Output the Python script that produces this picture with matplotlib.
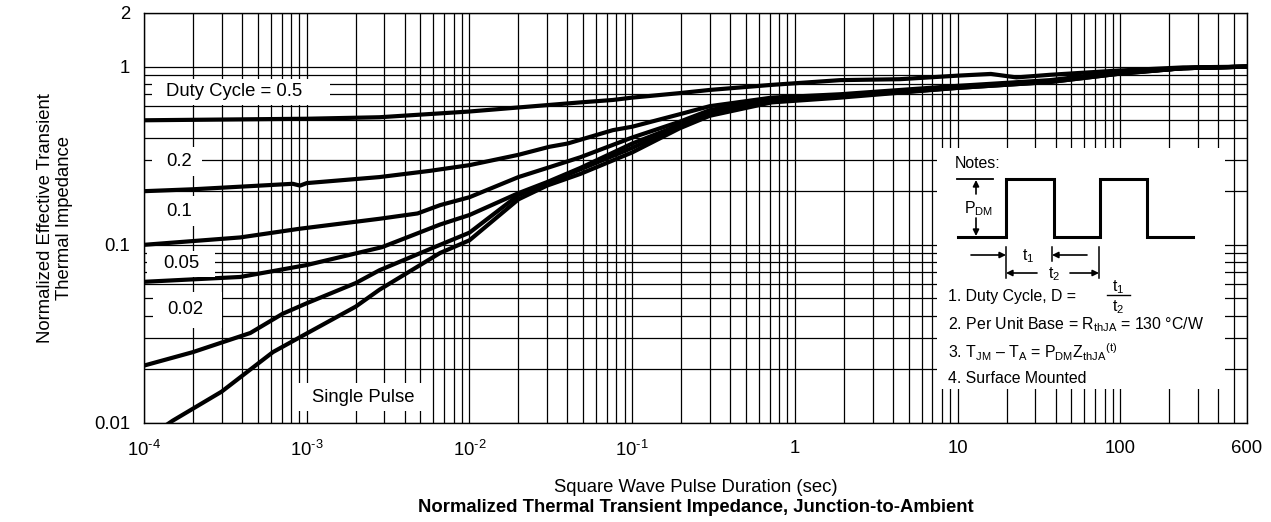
import numpy as np
import matplotlib.pyplot as plt
from matplotlib.patches import Rectangle

plt.rcParams['font.family'] = ['Liberation Sans', 'DejaVu Sans']
plt.rcParams['mathtext.fontset'] = 'custom'
plt.rcParams['mathtext.rm'] = 'Liberation Sans'
plt.rcParams['mathtext.it'] = 'Liberation Sans:italic'

# curves
d05_x = [1e-4, 1e-3, 2.8e-3, 1e-2, 2e-2, 4.8e-2, 7.6e-2, 0.1, 0.195, 0.3, 0.72, 1.9, 4.4, 10, 16, 23, 37, 96, 243, 600]
d05_y = [0.50, 0.51, 0.52, 0.56, 0.59, 0.63, 0.65, 0.67, 0.71, 0.74, 0.79, 0.84, 0.85, 0.89, 0.91, 0.87, 0.90, 0.95, 0.99, 1.0]

d02_x = [1e-4, 2e-4, 8.2e-4, 9.1e-4, 1e-3, 2.8e-3, 5.7e-3, 1e-2, 2e-2, 3.1e-2, 4e-2, 7.6e-2, 0.1, 0.195, 0.3, 0.72, 1.9, 10, 37, 96, 243, 600]
d02_y = [0.20, 0.205, 0.22, 0.215, 0.222, 0.24, 0.26, 0.28, 0.32, 0.355, 0.37, 0.44, 0.46, 0.54, 0.60, 0.67, 0.70, 0.78, 0.84, 0.93, 0.98, 1.0]

d01_x = [1e-4, 3.9e-4, 9e-4, 2.8e-3, 4.8e-3, 6.6e-3, 1e-2, 2e-2, 3e-2, 4.8e-2, 0.1, 0.195, 0.3, 0.72, 1.9, 10, 37, 96, 243, 600]
d01_y = [0.10, 0.11, 0.123, 0.14, 0.15, 0.167, 0.185, 0.24, 0.27, 0.31, 0.40, 0.49, 0.57, 0.66, 0.69, 0.77, 0.83, 0.92, 0.98, 1.0]

d005_x = [1e-4, 3.9e-4, 1e-3, 2.9e-3, 6.6e-3, 1e-2, 2e-2, 3e-2, 4.8e-2, 0.1, 0.195, 0.3, 0.72, 1.9, 10, 37, 96, 243, 600]
d005_y = [0.062, 0.066, 0.077, 0.097, 0.13, 0.147, 0.195, 0.225, 0.27, 0.37, 0.47, 0.55, 0.65, 0.68, 0.77, 0.83, 0.92, 0.98, 1.0]

d002_x = [1e-4, 2e-4, 4.5e-4, 7.1e-4, 1e-3, 2e-3, 2.8e-3, 6.6e-3, 1e-2, 2e-2, 3e-2, 4.8e-2, 0.1, 0.195, 0.3, 0.72, 1.9, 10, 37, 96, 243, 600]
d002_y = [0.021, 0.025, 0.032, 0.041, 0.047, 0.061, 0.072, 0.10, 0.117, 0.19, 0.222, 0.265, 0.35, 0.46, 0.54, 0.64, 0.68, 0.76, 0.82, 0.91, 0.98, 1.0]

single_x = [1e-4, 1.5e-4, 3e-4, 6.2e-4, 9.5e-4, 2e-3, 2.8e-3, 6.6e-3, 1e-2, 2e-2, 3e-2, 4.8e-2, 0.1, 0.195, 0.3, 0.72, 1.9, 10, 37, 96, 243, 600]
single_y = [0.0080, 0.0103, 0.015, 0.025, 0.031, 0.045, 0.056, 0.09, 0.106, 0.18, 0.215, 0.25, 0.33, 0.45, 0.53, 0.63, 0.67, 0.76, 0.82, 0.91, 0.98, 1.0]

xticks = [1e-4, 1e-3, 1e-2, 1e-1, 1, 10, 100, 600]
xtick_labels = [r'$\mathregular{10^{\text{-}4}}$', r'$\mathregular{10^{\text{-}3}}$', r'$\mathregular{10^{\text{-}2}}$',
                r'$\mathregular{10^{\text{-}1}}$', '1', '10', '100', '600']
yticks = [0.01, 0.1, 1, 2]
ytick_labels = ['0.01', '0.1', '1', '2']

W, H = 1271, 522
AX_L, AX_R, AX_T, AX_B = 144, 1247, 13, 423

fig = plt.figure(figsize=(W / 100, H / 100), dpi=100)
ax = fig.add_axes([AX_L / W, 1 - AX_B / H, (AX_R - AX_L) / W, (AX_B - AX_T) / H])

for xs, ys in [(d05_x, d05_y), (d02_x, d02_y), (d01_x, d01_y),
               (d005_x, d005_y), (d002_x, d002_y), (single_x, single_y)]:
    ax.plot(xs, ys, color='black', lw=3.0, solid_joinstyle='round')

ax.set_xscale('log')
ax.set_yscale('log')
ax.set_xlim(1e-4, 600)
ax.set_ylim(0.01, 2)
ax.set_xticks(xticks)
ax.set_xticklabels(xtick_labels)
ax.set_yticks(yticks)
ax.set_yticklabels(ytick_labels)
ax.grid(True, which='both', color='black', lw=0.9)
ax.tick_params(which='both', length=0, labelsize=13.3)
ax.tick_params(axis='x', pad=12)
ax.tick_params(axis='y', pad=10)
for s in ax.spines.values():
    s.set_linewidth(1.0)


def frac(px, py):
    return (px - AX_L) / (AX_R - AX_L), (AX_B - py) / (AX_B - AX_T)


def label(text, left, top, right, bottom, tx):
    x0, y0 = frac(left, bottom)
    x1, y1 = frac(right, top)
    ax.add_patch(Rectangle((x0, y0), x1 - x0, y1 - y0, transform=ax.transAxes,
                           facecolor='white', edgecolor='none', zorder=3))
    fx, fy = frac(tx, (top + bottom) / 2)
    ax.text(fx, fy, text, transform=ax.transAxes, ha='left', va='center',
            fontsize=13.3, zorder=4)


label('Duty Cycle = 0.5', 152, 79, 330, 105, 166)
label('0.2', 152, 147, 202, 176, 166)
label('0.1', 152, 196, 202, 226, 166)
label('0.05', 147, 251, 215, 277, 163)
label('0.02', 153, 292, 222, 328, 167)
label('Single Pulse', 297, 383, 428, 411, 312)

# notes box drawn in its own pixel-like coordinates
NL, NR, NT, NB = 937, 1225, 148, 389
nx = fig.add_axes([NL / W, 1 - NB / H, (NR - NL) / W, (NB - NT) / H])
nx.set_xlim(NL, NR)
nx.set_ylim(NB, NT)
nx.set_xticks([])
nx.set_yticks([])
for s in nx.spines.values():
    s.set_visible(False)
nx.set_facecolor('white')

nx.plot([958, 1006, 1006, 1054, 1054, 1100, 1100, 1147, 1147, 1193],
        [237, 237, 179, 179, 237, 237, 179, 179, 237, 237],
        color='black', lw=2.2, solid_joinstyle='miter')
nx.plot([957, 993], [179, 179], color='black', lw=1.3)
arr = dict(arrowstyle='-|>', color='black', lw=1.2, mutation_scale=9, shrinkA=0, shrinkB=0)
nx.annotate('', xy=(976, 180), xytext=(976, 194), arrowprops=arr)
nx.annotate('', xy=(976, 236), xytext=(976, 218), arrowprops=arr)
nx.text(979, 209, r'$\mathregular{P_{DM}}$', ha='center', va='center', fontsize=11.4)
for xv, y0, y1 in [(1006, 247, 278), (1052, 247, 261), (1099, 247, 278)]:
    nx.plot([xv, xv], [y0, y1], color='black', lw=1.1)
nx.annotate('', xy=(1006, 255), xytext=(971, 255), arrowprops=arr)
nx.annotate('', xy=(1052, 255), xytext=(1087, 255), arrowprops=arr)
nx.text(1028, 256, r'$\mathregular{t_1}$', ha='center', va='center', fontsize=11.4)
nx.annotate('', xy=(1006, 273), xytext=(1037, 273), arrowprops=arr)
nx.annotate('', xy=(1099, 273), xytext=(1070, 273), arrowprops=arr)
nx.text(1054, 274, r'$\mathregular{t_2}$', ha='center', va='center', fontsize=11.4)

nx.text(955, 163, 'Notes:', ha='left', va='center', fontsize=11.4)
nx.text(948, 297, '1. Duty Cycle, D =', ha='left', va='center', fontsize=11.4)
nx.text(1118, 287, r'$\mathregular{t_1}$', ha='center', va='center', fontsize=11.4)
nx.plot([1107, 1130], [295, 295], color='black', lw=1.0)
nx.text(1118, 307, r'$\mathregular{t_2}$', ha='center', va='center', fontsize=11.4)
nx.text(948, 325, r'2. Per Unit Base = $\mathregular{R_{thJA}}$ = 130 °C/W',
        ha='left', va='center', fontsize=11.4)
nx.text(948, 352, r'3. $\mathregular{T_{JM}}$ – $\mathregular{T_A}$ = $\mathregular{P_{DM}Z_{thJA}{}^{(t)}}$',
        ha='left', va='center', fontsize=11.4)
nx.text(948, 379, '4. Surface Mounted', ha='left', va='center', fontsize=11.4)

fig.text(55 / W, 1 - 218 / H, 'Normalized Effective Transient\nThermal Impedance',
         rotation=90, ha='center', va='center', fontsize=13.3, linespacing=1.1)
fig.text((AX_L + AX_R) / 2 / W, 1 - 487 / H, 'Square Wave Pulse Duration (sec)',
         ha='center', va='center', fontsize=13.3)
fig.text((AX_L + AX_R) / 2 / W, 1 - 507 / H,
         'Normalized Thermal Transient Impedance, Junction-to-Ambient',
         ha='center', va='center', fontsize=13.3, fontweight='bold')

fig.savefig('out.png', dpi=100)
